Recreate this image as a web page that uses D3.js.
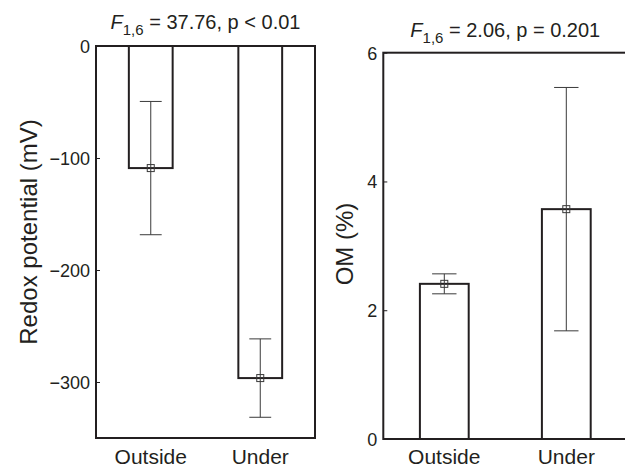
<!DOCTYPE html>
<html>
<head>
<meta charset="utf-8">
<script src="https://cdn.jsdelivr.net/npm/d3@7/dist/d3.min.js"></script>
<style>
  body { margin: 0; background: #fff; }
  svg { display: block; font-family: "Liberation Sans", Arial, Helvetica, sans-serif; }
</style>
</head>
<body>
<svg id="chart" width="625" height="468"></svg>
<script>
// values
const categories = ["Outside", "Under"];
const redoxMean = [-109, -296.5];
const redoxErr = [59.5, 35];
const omMean = [2.41, 3.57];
const omErr = [0.155, 1.89];
const redoxTicks = [0, -100, -200, -300];
const omTicks = [0, 2, 4, 6];

const ink = "#231f20";
const svg = d3.select("#chart");

function drawPanel(cfg) {
    let g = svg.append("g");

    let x = d3.scaleBand()
        .domain(categories)
        .range([cfg.left, cfg.right])
        .paddingInner(0.6)
        .paddingOuter(0.3);
    let y = d3.scaleLinear()
        .domain(cfg.domain)
        .range([cfg.bottom, cfg.top]);

    // bars (from zero to the mean)
    g.selectAll("rect.bar")
        .data(cfg.mean)
        .join("rect")
        .attr("class", "bar")
        .attr("x", (d, i) => x(categories[i]))
        .attr("width", x.bandwidth())
        .attr("y", d => Math.min(y(0), y(d)))
        .attr("height", d => Math.abs(y(d) - y(0)))
        .attr("fill", "none")
        .attr("stroke", ink)
        .attr("stroke-width", 2);

    // error bars
    let cap = x.bandwidth() / 4;
    let eb = g.selectAll("g.err")
        .data(cfg.mean)
        .join("g")
        .attr("class", "err")
        .attr("stroke", "#3a3a3a")
        .attr("stroke-width", 1)
        .attr("fill", "none");
    eb.each(function(d, i) {
        let cx = x(categories[i]) + x.bandwidth() / 2;
        let e = cfg.err[i];
        let s = d3.select(this);
        s.append("line").attr("x1", cx).attr("x2", cx).attr("y1", y(d + e)).attr("y2", y(d - e));
        s.append("line").attr("x1", cx - cap).attr("x2", cx + cap).attr("y1", y(d + e)).attr("y2", y(d + e));
        s.append("line").attr("x1", cx - cap).attr("x2", cx + cap).attr("y1", y(d - e)).attr("y2", y(d - e));
        s.append("rect").attr("x", cx - 3.5).attr("y", y(d) - 3.5).attr("width", 7).attr("height", 7);
    });

    // box
    g.append("rect")
        .attr("x", cfg.left)
        .attr("y", cfg.top)
        .attr("width", cfg.right - cfg.left)
        .attr("height", cfg.bottom - cfg.top)
        .attr("fill", "none")
        .attr("stroke", ink)
        .attr("stroke-width", 2);

    // y axis with inward ticks
    let yAxis = d3.axisRight(y).tickValues(cfg.ticks).tickSize(4).tickFormat(d => d3.format("d")(d).replace("-", "\u2212"));
    let ax = g.append("g").attr("transform", `translate(${cfg.left},0)`).call(yAxis);
    ax.select(".domain").remove();
    ax.selectAll(".tick line").attr("stroke", ink);
    ax.selectAll(".tick text")
        .attr("x", -6)
        .attr("text-anchor", "end")
        .attr("dy", "0.35em")
        .attr("font-size", 18)
        .attr("fill", ink);

    // category labels
    g.selectAll("text.cat")
        .data(categories)
        .join("text")
        .attr("class", "cat")
        .attr("x", d => x(d) + x.bandwidth() / 2)
        .attr("y", 464)
        .attr("text-anchor", "middle")
        .attr("font-size", 21)
        .attr("fill", ink)
        .text(d => d);

    // y label
    g.append("text")
        .attr("transform", `translate(${cfg.labelX},${cfg.labelY}) rotate(-90)`)
        .attr("text-anchor", "middle")
        .attr("font-size", 24)
        .attr("fill", ink)
        .text(cfg.label);

    // title: F with subscript
    let t = g.append("text")
        .attr("x", (cfg.left + cfg.right) / 2)
        .attr("y", cfg.titleY)
        .attr("text-anchor", "middle")
        .attr("font-size", 20)
        .attr("fill", ink);
    t.append("tspan").attr("font-style", "italic").text("F");
    t.append("tspan").attr("font-size", 15).attr("dy", 6).text("1,6");
    t.append("tspan").attr("dy", -6).text(" = " + cfg.stat);
}

drawPanel({
    left: 96, right: 315, top: 46, bottom: 438,
    domain: [-350, 0], ticks: redoxTicks,
    mean: redoxMean, err: redoxErr,
    label: "Redox potential (mV)", labelX: 37, labelY: 232,
    titleY: 29, stat: "37.76, p < 0.01"
});

drawPanel({
    left: 383.3, right: 627.3, top: 52.7, bottom: 439,
    domain: [0, 6], ticks: omTicks,
    mean: omMean, err: omErr,
    label: "OM (%)", labelX: 353, labelY: 244,
    titleY: 37, stat: "2.06, p = 0.201"
});
</script>
</body>
</html>
